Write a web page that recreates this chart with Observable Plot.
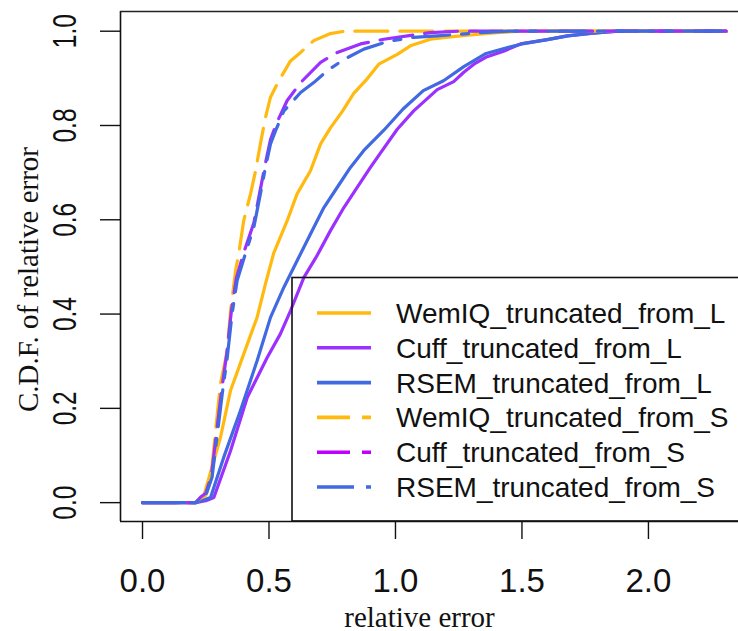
<!DOCTYPE html>
<html>
<head>
<meta charset="utf-8">
<script src="https://cdn.jsdelivr.net/npm/d3@7"></script>
<script src="https://cdn.jsdelivr.net/npm/@observablehq/plot@0.6"></script>
<style>
  html, body { margin: 0; padding: 0; background: white; }
</style>
</head>
<body>
<div id="chart"></div>
<script>
// ---- data ----
const seriesNames = ["WemIQ_truncated_from_L", "Cuff_truncated_from_L", "RSEM_truncated_from_L",
                     "WemIQ_truncated_from_S", "Cuff_truncated_from_S", "RSEM_truncated_from_S"];
const lineColors   = ["#FFB90F", "#9B30FF", "#4169E1", "#FFB90F", "#9B30FF", "#4169E1"];
const legendColors = ["#FFB90F", "#9B30FF", "#4169E1", "#FFB90F", "#C000FF", "#4169E1"];
const dashes = [null, null, null, "33,12", "33,12", "37,12,7,12"];

const wemiqL = [[0,0],[0.21,0],[0.24,0.01],[0.256,0.04],[0.308,0.138],[0.348,0.238],[0.40,0.315],[0.453,0.393],
  [0.486,0.464],[0.519,0.53],[0.572,0.598],[0.611,0.655],[0.664,0.704],[0.704,0.761],[0.743,0.795],[0.79,0.83],
  [0.835,0.868],[0.888,0.899],[0.934,0.93],[1.007,0.951],[1.059,0.969],[1.138,0.983],[1.217,0.988],[1.296,0.992],
  [1.40,0.997],[1.50,1.0],[2.307,1.0]];
const cuffL = [[0,0],[0.21,0],[0.25,0.004],[0.282,0.011],[0.348,0.11],[0.414,0.223],[0.493,0.308],[0.545,0.358],
  [0.585,0.407],[0.638,0.478],[0.69,0.524],[0.743,0.577],[0.796,0.626],[0.848,0.668],[0.901,0.711],[0.941,0.742],
  [1.007,0.792],[1.072,0.831],[1.165,0.876],[1.23,0.893],[1.27,0.913],[1.31,0.93],[1.362,0.946],[1.43,0.958],
  [1.494,0.973],[1.60,0.982],[1.68,0.99],[1.78,0.996],[1.88,1.0],[2.307,1.0]];
const rsemL = [[0,0],[0.21,0],[0.24,0.005],[0.269,0.011],[0.321,0.096],[0.387,0.195],[0.453,0.301],[0.506,0.393],
  [0.559,0.457],[0.611,0.513],[0.664,0.57],[0.717,0.626],[0.77,0.669],[0.822,0.711],[0.875,0.747],[0.954,0.79],
  [1.03,0.835],[1.11,0.874],[1.19,0.895],[1.27,0.925],[1.355,0.952],[1.44,0.965],[1.50,0.973],[1.60,0.982],
  [1.68,0.99],[1.78,0.996],[1.88,1.0],[2.307,1.0]];
const wemiqS = [[0,0],[0.21,0],[0.23,0.01],[0.25,0.015],[0.269,0.047],[0.289,0.153],[0.308,0.252],[0.335,0.322],
  [0.348,0.407],[0.368,0.492],[0.381,0.53],[0.40,0.598],[0.427,0.655],[0.447,0.704],[0.466,0.761],[0.486,0.817],
  [0.506,0.86],[0.539,0.895],[0.585,0.937],[0.625,0.955],[0.677,0.98],[0.743,0.995],[0.80,1.0],[2.307,1.0]];
const cuffS = [[0,0],[0.21,0],[0.23,0.012],[0.25,0.02],[0.272,0.056],[0.312,0.235],[0.332,0.312],[0.351,0.405],
  [0.371,0.476],[0.40,0.53],[0.44,0.593],[0.466,0.665],[0.486,0.72],[0.506,0.77],[0.53,0.805],[0.572,0.853],
  [0.625,0.891],[0.704,0.934],[0.77,0.955],[0.862,0.973],[0.954,0.983],[1.138,0.997],[1.25,1.0],[2.307,1.0]];
const rsemS = [[0,0],[0.21,0],[0.23,0.01],[0.25,0.015],[0.275,0.054],[0.315,0.23],[0.335,0.308],[0.354,0.40],
  [0.374,0.471],[0.405,0.525],[0.44,0.584],[0.466,0.655],[0.486,0.711],[0.506,0.761],[0.526,0.789],[0.559,0.831],
  [0.585,0.846],[0.625,0.87],[0.677,0.891],[0.73,0.916],[0.796,0.94],[0.875,0.962],[0.967,0.978],[1.072,0.987],
  [1.165,0.99],[1.336,0.997],[1.45,1.0],[2.307,1.0]];

const xTicks = [0, 0.5, 1.0, 1.5, 2.0];
const yTicks = [0, 0.2, 0.4, 0.6, 0.8, 1.0];
const xDomain = [-0.087, 2.356];
const yDomain = [-0.04, 1.0418];

// ---- build ----
const allSeries = [wemiqL, cuffL, rsemL, wemiqS, cuffS, rsemS];
const rows = allSeries.flatMap((pts, i) => pts.map(([x, y]) => ({series: seriesNames[i], x, y})));

const lineMarks = seriesNames.map((name, i) =>
  Plot.line(rows.filter(d => d.series === name), {
    x: "x", y: "y", stroke: lineColors[i], strokeWidth: 3.2,
    strokeDasharray: dashes[i] ?? undefined, strokeLinejoin: "round"
  })
);

const serif = "'Liberation Serif', 'Times New Roman', serif";

const plot = Plot.plot({
  width: 738,
  height: 631,
  marginLeft: 120,
  marginRight: 0,
  marginTop: 11,
  marginBottom: 110,
  x: {domain: xDomain},
  y: {domain: yDomain},
  style: {fontFamily: "'Liberation Sans', Arial, sans-serif", background: "white", color: "#111"},
  marks: [
    ...lineMarks,
    Plot.ruleX([xDomain[0]], {stroke: "#111", strokeWidth: 1.6}),
    Plot.ruleY([yDomain[0]], {stroke: "#111", strokeWidth: 1.6}),
    Plot.ruleY([yDomain[1]], {stroke: "#222", strokeWidth: 1.6}),
    Plot.axisX({ticks: xTicks, tickSize: 18, tickPadding: 29, fontSize: 33,
      tickFormat: d => d.toFixed(1), label: null, strokeWidth: 1.4}),
    Plot.axisY({ticks: yTicks, tickSize: 20, tickFormat: () => "", label: null, strokeWidth: 1.4}),
    Plot.text(yTicks, {y: d => d, text: d => d.toFixed(1), frameAnchor: "left", dx: -55,
      rotate: -90, fontSize: 33, textAnchor: "middle", lineAnchor: "middle", fill: "#111"}),
    Plot.text(["relative error"], {frameAnchor: "bottom", dx: -10, dy: 105, fontSize: 29,
      textAnchor: "middle", fontFamily: serif, fill: "#111"}),
    Plot.text(["C.D.F. of relative error"], {frameAnchor: "left", dx: -92, dy: 13, rotate: -90, fontSize: 29,
      textAnchor: "middle", lineAnchor: "middle", fontFamily: serif, fill: "#111"})
  ]
});

document.getElementById("chart").appendChild(plot);

const svg = d3.select(plot);

// condense the rotated y tick labels like the reference
svg.selectAll("text").filter(function () {
  return /rotate/.test(this.getAttribute("transform") || "") && /^\d\.\d$/.test(this.textContent);
}).attr("textLength", 34).attr("lengthAdjust", "spacingAndGlyphs");

// ---- legend (inside plot area, bottom-right, box cut by the right edge) ----
const lg = svg.append("g").attr("class", "legend").attr("text-anchor", "start");
lg.append("rect")
  .attr("x", 292).attr("y", 277.5).attr("width", 520).attr("height", 521 - 277.5)
  .attr("fill", "none").attr("stroke", "#111").attr("stroke-width", 1.6);
seriesNames.forEach((name, i) => {
  const cy = 313 + i * 34.8;
  lg.append("line")
    .attr("x1", 317).attr("x2", 371).attr("y1", cy).attr("y2", cy)
    .attr("stroke", legendColors[i]).attr("stroke-width", 3.6)
    .attr("stroke-dasharray", dashes[i]);
  lg.append("text")
    .attr("x", 396).attr("y", cy).attr("dy", "0.36em")
    .attr("text-anchor", "start")
    .attr("font-family", "'Liberation Sans', Arial, sans-serif")
    .attr("font-size", 28).attr("fill", "#111")
    .text(name);
});
</script>
</body>
</html>
